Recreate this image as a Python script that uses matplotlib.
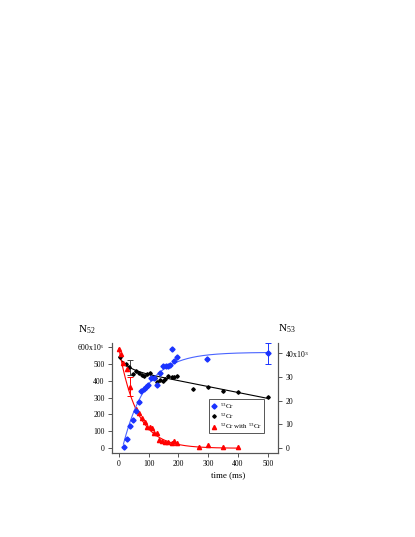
import numpy as np
import matplotlib
matplotlib.use("Agg")
import matplotlib.pyplot as plt
from matplotlib.ticker import FuncFormatter
from matplotlib.lines import Line2D

plt.rcParams['font.family'] = ['Liberation Serif', 'DejaVu Serif']
plt.rcParams['mathtext.fontset'] = 'custom'
plt.rcParams['mathtext.rm'] = 'Liberation Serif'
plt.rcParams['mathtext.it'] = 'Liberation Serif'

# 53Cr (right axis, x10^3)
blue_t = [16, 27, 37, 47, 56, 66, 74, 83, 91, 97, 107, 117, 128, 138, 149, 157, 165, 170, 177, 185, 196, 297, 500]
blue_n = [0.4, 3.8, 9.1, 11.7, 15.4, 19.4, 24.0, 24.8, 25.6, 26.5, 29.7, 29.4, 26.7, 31.6, 34.9, 34.6, 34.9, 35.3, 41.7, 36.9, 38.6, 37.5, 40.0]
blue_err_t = [500]
blue_err_n = [40.0]
blue_err = [4.4]

# 52Cr (left axis)
black_t = [5, 24, 35, 46, 57, 67, 77, 84, 95, 104, 113, 121, 129, 138, 147, 156, 166, 177, 186, 196, 248, 298, 349, 401, 500]
black_n = [541, 496, 480, 437, 457, 447, 433, 427, 437, 443, 423, 413, 394, 404, 398, 407, 428, 423, 419, 427, 350, 360, 341, 333, 301]
black_err_t = [38]
black_err_n = [480]
black_err = [45]

# 52Cr with 53Cr (left axis)
red_t = [1, 7, 15, 26, 37, 56, 67, 76, 87, 95, 104, 110, 119, 127, 136, 146, 156, 166, 177, 186, 196, 270, 298, 349, 399]
red_n = [590, 555, 506, 467, 365, 232, 207, 177, 154, 128, 124, 118, 93, 89, 49, 45, 39, 39, 33, 45, 33, 6, 20, 10, 10]
red_err_t = [37]
red_err_n = [365]
red_err = [55]

# fit parameters
blue_fit_A, blue_fit_t0, blue_fit_tau = 40.5, 12.0, 80.0
black_fit_a, black_fit_tau, black_fit_b, black_fit_slope = 70.0, 30.0, 470.0, 0.35
red_fit_a, red_fit_tau = 590.0, 61.0

BLUE = '#1a33ff'
BLUE_L = '#4a64ff'
RED = '#ff0000'

fig = plt.figure(figsize=(4.15, 5.37), dpi=100)
ax = fig.add_axes([0.269, 0.156, 0.402, 0.205])
ax2 = ax.twinx()

xs = np.linspace(0, 500, 400)
ax.plot(xs, black_fit_a * np.exp(-xs / black_fit_tau) + black_fit_b - black_fit_slope * xs,
        color='black', lw=0.8, zorder=2)
xr = np.linspace(0, 400, 400)
ax.plot(xr, red_fit_a * np.exp(-xr / red_fit_tau), color=RED, lw=0.8, zorder=2)
xb = np.linspace(15, 500, 400)
ax2.plot(xb, blue_fit_A * (1 - np.exp(-(xb - blue_fit_t0) / blue_fit_tau)), color=BLUE_L, lw=0.8, zorder=2)

ax.plot(black_t, black_n, ls='none', marker='D', ms=1.8, color='black', zorder=3)
ax.errorbar(black_err_t, black_err_n, yerr=black_err, fmt='none', ecolor='#444444', elinewidth=0.7, capsize=2, capthick=0.7)
ax.plot(red_t, red_n, ls='none', marker='^', ms=3.0, color=RED, zorder=3)
ax.errorbar(red_err_t, red_err_n, yerr=red_err, fmt='none', ecolor=RED, elinewidth=0.7, capsize=2, capthick=0.7)
ax2.plot(blue_t, blue_n, ls='none', marker='D', ms=2.6, color=BLUE, zorder=3)
ax2.errorbar(blue_err_t, blue_err_n, yerr=blue_err, fmt='none', ecolor=BLUE, elinewidth=0.7, capsize=2, capthick=0.7)

ax.set_xlim(-24.6, 536)
ax.set_ylim(-29.5, 622)
ax2.set_ylim(-2.37, 44.4)

ax.set_xticks([0, 100, 200, 300, 400, 500])
ax.set_yticks([0, 100, 200, 300, 400, 500, 600])
ax2.set_yticks([0, 10, 20, 30, 40])
ax.yaxis.set_major_formatter(FuncFormatter(lambda v, p: '600x10$^3$' if v == 600 else '%d' % v))
ax2.yaxis.set_major_formatter(FuncFormatter(lambda v, p: '40x10$^3$' if v == 40 else '%d' % v))

for a in (ax, ax2):
    a.spines['top'].set_visible(False)
    for s in a.spines.values():
        s.set_color('#555555')
        s.set_linewidth(0.8)
    a.tick_params(labelsize=5.5, length=3, width=0.7, color='#555555', pad=2)

ax.set_xlabel('time (ms)', fontsize=6.5, labelpad=1)
ax.xaxis.set_label_coords(0.7, -0.16)

fig.text(78 / 415, 1 - 330 / 537, 'N$_{52}$', fontsize=8, ha='left', va='center')
fig.text(278 / 415, 1 - 329 / 537, 'N$_{53}$', fontsize=8, ha='left', va='center')

handles = [Line2D([], [], ls='none', marker='D', ms=2.6, color=BLUE),
           Line2D([], [], ls='none', marker='D', ms=1.8, color='black'),
           Line2D([], [], ls='none', marker='^', ms=3.0, color=RED)]
labels = ['$^{53}$Cr', '$^{52}$Cr', '$^{52}$Cr with $^{53}$Cr']
leg = ax2.legend(handles, labels, loc='lower left', bbox_to_anchor=(0.585, 0.18), fontsize=5,
                 frameon=True, fancybox=False, edgecolor='#555555', framealpha=1,
                 handlelength=0.8, handletextpad=0.4, borderpad=0.3, labelspacing=0.15,
                 borderaxespad=0)
leg.get_frame().set_linewidth(0.7)

fig.savefig('out.png', dpi=100)
